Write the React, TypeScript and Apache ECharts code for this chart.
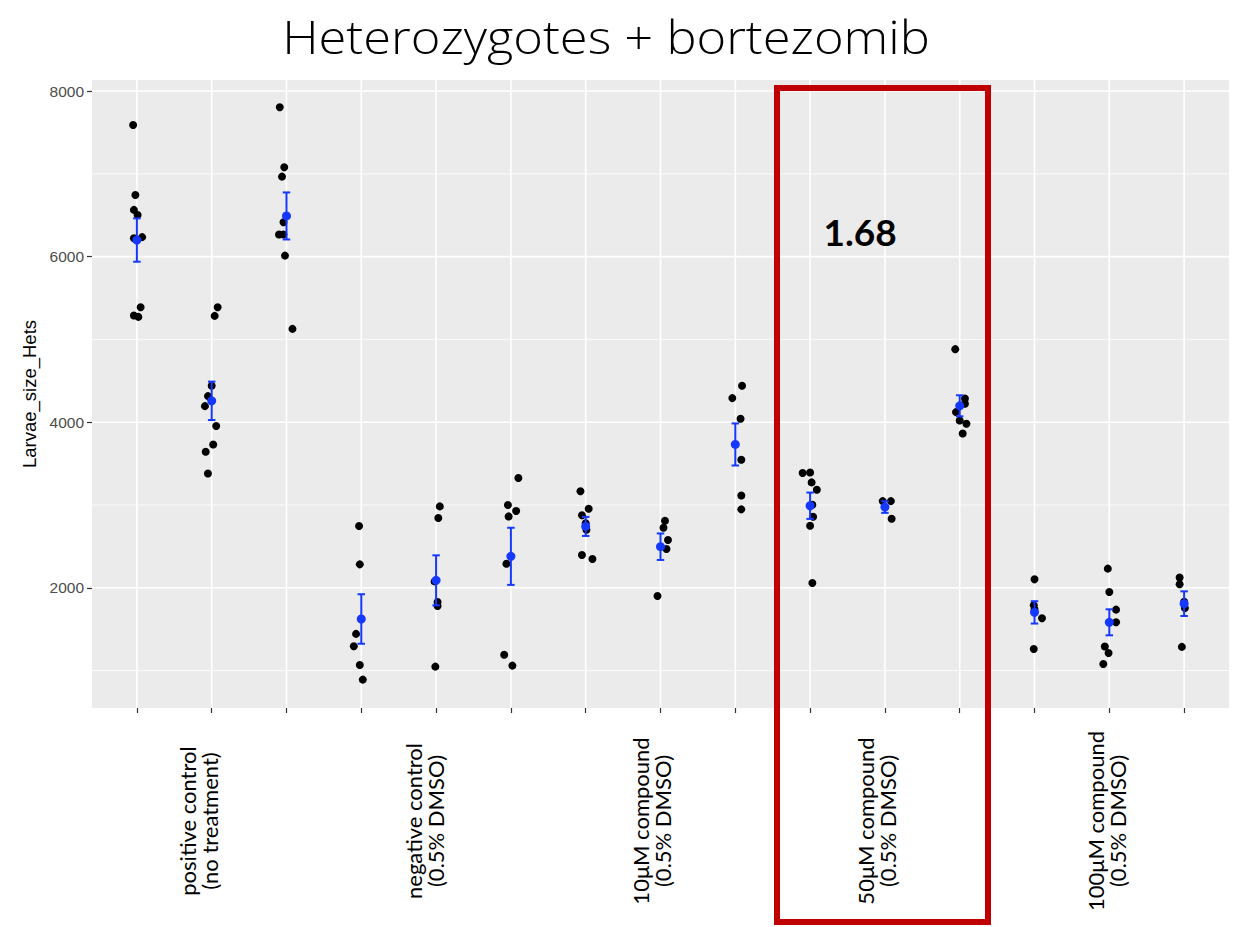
import React, { useEffect, useRef } from "react";
import * as echarts from "echarts";

const categoryPositions = [1, 2, 3, 4, 5, 6, 7, 8, 9, 10, 11, 12, 13, 14, 15];

const groupLabels = [
  "positive control\n(no treatment)",
  "negative control\n(0.5% DMSO)",
  "10μM compound\n(0.5% DMSO)",
  "50μM compound\n(0.5% DMSO)",
  "100μM compound\n(0.5% DMSO)",
];

const yTicks = [2000, 4000, 6000, 8000];
const yMinorGrid = [1000, 3000, 5000, 7000];

const pointValues = [
  [7590, 6745, 6564, 6503, 6222, 6235, 5389, 5288, 5272],
  [5389, 5284, 4440, 4315, 4194, 3953, 3731, 3643, 3381],
  [7803, 7079, 6966, 6415, 6266, 6266, 6012, 5127],
  [2746, 2283, 1443, 1293, 1068, 891],
  [2983, 2843, 2077, 1829, 1780, 1048],
  [3325, 3000, 2927, 2862, 2291, 1192, 1060],
  [3165, 2954, 2877, 2780, 2701, 2396, 2348],
  [2810, 2726, 2577, 2468, 1901],
  [4440, 4291, 4041, 3546, 3115, 2947],
  [3386, 3393, 3273, 3184, 3003, 2858, 2749, 2058],
  [3047, 3047, 2834],
  [4882, 4287, 4222, 4122, 4021, 3981, 3864],
  [2102, 1790, 1740, 1631, 1261],
  [2231, 1950, 1736, 1583, 1290, 1213, 1080],
  [2125, 2042, 1832, 1756, 1286],
];

const pointJitter = [
  [-0.05, -0.02, -0.04, 0.01, -0.04, 0.07, 0.05, -0.04, 0.02],
  [0.08, 0.04, 0, -0.05, -0.09, 0.06, 0.02, -0.08, -0.05],
  [-0.09, -0.03, -0.06, -0.04, -0.1, -0.04, -0.02, 0.08],
  [-0.03, -0.02, -0.07, -0.1, -0.02, 0.02],
  [0.05, 0.03, -0.02, 0.02, 0.02, -0.01],
  [0.1, -0.04, 0.07, -0.03, -0.06, -0.09, 0.02],
  [-0.07, 0.04, -0.05, 0, 0.01, -0.05, 0.09],
  [0.06, 0.04, 0.1, 0.08, -0.04],
  [0.09, -0.04, 0.07, 0.08, 0.08, 0.08],
  [-0.1, 0.0, 0.02, 0.09, 0.03, 0.04, 0, 0.03],
  [-0.03, 0.08, 0.09],
  [-0.06, 0.07, 0.07, -0.05, 0, 0.09, 0.04],
  [0, -0.01, 0, 0.1, -0.01],
  [-0.02, 0, 0.09, 0.09, -0.06, -0.01, -0.08],
  [-0.06, -0.06, 0, 0.01, -0.03],
];

const groupMeans = [6200, 4258, 6491, 1623, 2090, 2380, 2741, 2496, 3731, 2991, 2975, 4198, 1703, 1583, 1808];
const groupSE = [262, 232, 284, 299, 302, 345, 115, 160, 254, 159, 70, 127, 135, 157, 149];

const annotationValue = "1.68";

const BLUE = "#1438FF";

export default function App() {
  const ref = useRef<HTMLDivElement>(null);

  useEffect(() => {
    if (!ref.current) return;
    const chart = echarts.init(ref.current, null, { renderer: "svg" });

    const jitterData: number[][] = [];
    pointValues.forEach((vals, i) => {
      vals.forEach((v, j) => {
        jitterData.push([categoryPositions[i] + pointJitter[i][j], v]);
      });
    });

    const gridData: number[][] = [];
    categoryPositions.forEach((c) => gridData.push([0, c, 1.6]));
    yTicks.forEach((t) => gridData.push([1, t, 1.6]));
    yMinorGrid.forEach((t) => gridData.push([1, t, 0.8]));

    const errData = categoryPositions.map((c, i) => [c, groupMeans[i], groupSE[i]]);
    const meanData = categoryPositions.map((c, i) => [c, groupMeans[i]]);

    const labelX = [198, 424, 651, 876, 1106];

    const option: any = {
      animation: false,
      backgroundColor: "#ffffff",
      grid: {
        left: 92,
        right: 20,
        top: 80,
        bottom: 219,
        show: true,
        backgroundColor: "#EBEBEB",
        borderWidth: 0,
      },
      xAxis: {
        type: "value",
        min: 0.4,
        max: 15.6,
        axisLine: { show: false },
        axisTick: {
          show: true,
          customValues: categoryPositions,
          length: 5,
          lineStyle: { color: "#333333", width: 1.2 },
        },
        axisLabel: { show: false },
        splitLine: { show: false },
      },
      yAxis: {
        type: "value",
        min: 548,
        max: 8133,
        name: "Larvae_size_Hets",
        nameLocation: "middle",
        nameGap: 53,
        nameTextStyle: { fontSize: 18.5, color: "#000000", fontFamily: "Liberation Sans" },
        axisLine: { show: false },
        axisTick: {
          show: true,
          customValues: yTicks,
          length: 5,
          lineStyle: { color: "#333333", width: 1.2 },
        },
        axisLabel: {
          customValues: yTicks,
          formatter: (v: number) => String(v),
          color: "#4D4D4D",
          fontSize: 15.5,
          fontFamily: "Liberation Sans",
          margin: 8,
        },
        splitLine: { show: false },
      },
      series: [
        {
          type: "custom",
          z: 1,
          silent: true,
          clip: false,
          data: gridData,
          encode: { x: 1, y: 1 },
          renderItem: (params: any, api: any) => {
            const o = api.value(0);
            const v = api.value(1);
            const w = api.value(2);
            const cs = params.coordSys;
            if (o === 0) {
              const p = api.coord([v, 4000]);
              return {
                type: "line",
                shape: { x1: p[0], y1: cs.y, x2: p[0], y2: cs.y + cs.height },
                style: { stroke: "#FFFFFF", lineWidth: w },
              };
            }
            const p = api.coord([1, v]);
            return {
              type: "line",
              shape: { x1: cs.x, y1: p[1], x2: cs.x + cs.width, y2: p[1] },
              style: { stroke: "#FFFFFF", lineWidth: w },
            };
          },
        },
        {
          type: "scatter",
          z: 2,
          data: jitterData,
          symbol: "circle",
          symbolSize: 8,
          itemStyle: { color: "#000000", opacity: 1 },
        },
        {
          type: "custom",
          z: 3,
          data: errData,
          encode: { x: 0, y: 1 },
          renderItem: (params: any, api: any) => {
            const x = api.value(0);
            const m = api.value(1);
            const s = api.value(2);
            const top = api.coord([x, m + s]);
            const bot = api.coord([x, m - s]);
            const half = api.size([0.05, 0])[0];
            const st = { stroke: BLUE, lineWidth: 2 };
            return {
              type: "group",
              children: [
                { type: "line", shape: { x1: top[0], y1: top[1], x2: bot[0], y2: bot[1] }, style: st },
                { type: "line", shape: { x1: top[0] - half, y1: top[1], x2: top[0] + half, y2: top[1] }, style: st },
                { type: "line", shape: { x1: bot[0] - half, y1: bot[1], x2: bot[0] + half, y2: bot[1] }, style: st },
              ],
            };
          },
        },
        {
          type: "scatter",
          z: 4,
          data: meanData,
          symbol: "circle",
          symbolSize: 9,
          itemStyle: { color: BLUE, opacity: 1 },
        },
      ],
      graphic: [
        {
          type: "text",
          x: 606,
          y: 36,
          scaleX: 1.1,
          style: {
            text: "Heterozygotes + bortezomib",
            fill: "#000000",
            fontSize: 46,
            fontWeight: 300,
            fontFamily: "Open Sans",
            align: "center",
            verticalAlign: "middle",
            textAlign: "center",
            textVerticalAlign: "middle",
          },
        },
        {
          type: "text",
          x: 860,
          y: 231,
          z: 50,
          style: {
            text: annotationValue,
            fill: "#000000",
            fontSize: 37,
            fontWeight: "bold",
            fontFamily: "Lato",
            align: "center",
            verticalAlign: "middle",
            textAlign: "center",
            textVerticalAlign: "middle",
          },
        },
        ...groupLabels.map((t, i) => ({
          type: "text",
          x: labelX[i],
          y: 821,
          rotation: Math.PI / 2,
          style: {
            text: t,
            fill: "#000000",
            fontSize: 22,
            fontFamily: "Lato",
            lineHeight: 22,
            align: "center",
            verticalAlign: "middle",
            textAlign: "center",
            textVerticalAlign: "middle",
          },
        })),
        {
          type: "rect",
          z: 100,
          shape: { x: 777, y: 88, width: 211, height: 834 },
          style: { fill: "none", stroke: "#C00000", lineWidth: 6 },
        },
      ],
    };

    chart.setOption(option);
    return () => chart.dispose();
  }, []);

  return (
    <div
      ref={ref}
      style={{ position: "fixed", left: 0, top: 0, width: 1249, height: 927 }}
    />
  );
}
